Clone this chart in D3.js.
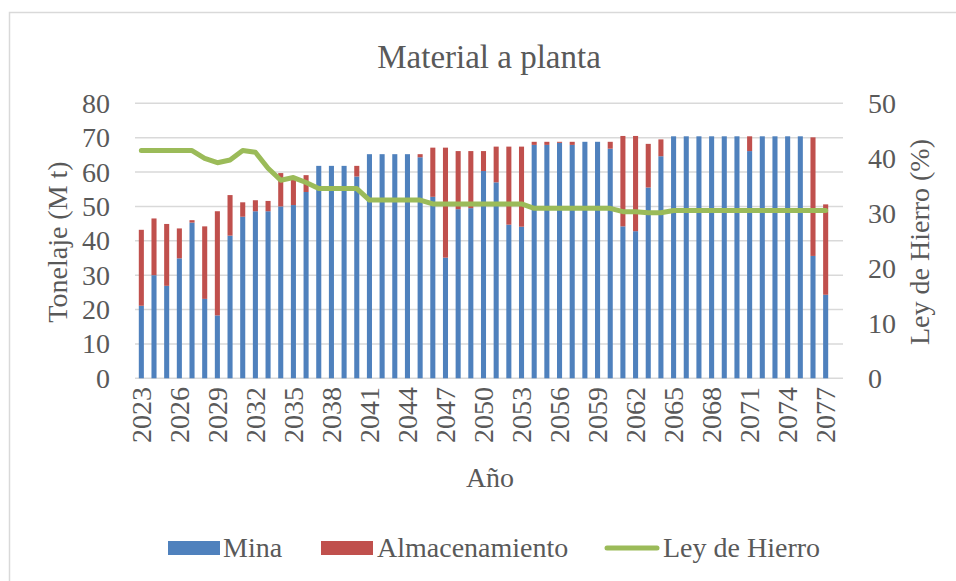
<!DOCTYPE html>
<html>
<head>
<meta charset="utf-8">
<script src="https://cdn.jsdelivr.net/npm/d3@7"></script>
<style>
  body { margin: 0; background: #fff; }
  text { font-family: "Liberation Serif", "Times New Roman", serif; fill: #595959; }
</style>
</head>
<body>
<svg id="chart" width="956" height="581"></svg>
<script>
// categories
var years = [2023, 2024, 2025, 2026, 2027, 2028, 2029, 2030, 2031, 2032,
             2033, 2034, 2035, 2036, 2037, 2038, 2039, 2040, 2041, 2042,
             2043, 2044, 2045, 2046, 2047, 2048, 2049, 2050, 2051, 2052,
             2053, 2054, 2055, 2056, 2057, 2058, 2059, 2060, 2061, 2062,
             2063, 2064, 2065, 2066, 2067, 2068, 2069, 2070, 2071, 2072,
             2073, 2074, 2075, 2076, 2077]

// Mt from the mine
var mina = [21.1, 30.0, 26.9, 34.9, 45.3, 23.1, 18.3, 41.5, 47.0, 48.6,
            48.6, 50.0, 50.4, 54.2, 61.8, 61.8, 61.8, 58.7, 65.2, 65.2,
            65.2, 65.2, 64.3, 52.8, 35.1, 49.2, 49.5, 60.3, 57.0, 44.7,
            44.1, 67.9, 67.9, 68.5, 67.9, 68.8, 68.8, 66.8, 44.2, 42.8,
            55.5, 64.6, 70.4, 70.4, 70.4, 70.4, 70.4, 70.4, 66.1, 70.4,
            70.4, 70.4, 70.4, 35.6, 24.3]

// Mt from stockpile
var almacenamiento = [22.1, 16.5, 18.0, 8.7, 0.7, 21.1, 30.3, 11.8, 4.2, 3.2,
                      3.0, 9.7, 7.8, 4.9, 0, 0, 0, 3.1, 0, 0,
                      0, 0, 0.9, 14.3, 32.0, 16.9, 16.6, 5.8, 10.4, 22.7,
                      23.3, 0.9, 0.9, 0.3, 0.9, 0, 0, 2.0, 26.3, 27.7,
                      12.7, 4.9, 0, 0, 0, 0, 0, 0, 4.3, 0,
                      0, 0, 0, 34.5, 26.3]

// iron grade %
var ley = [41.4, 41.4, 41.4, 41.4, 41.4, 40.0, 39.2, 39.7, 41.4, 41.1,
           38.2, 36.0, 36.5, 35.6, 34.5, 34.5, 34.5, 34.5, 32.4, 32.4,
           32.4, 32.4, 32.4, 31.7, 31.7, 31.7, 31.7, 31.7, 31.7, 31.7,
           31.7, 30.9, 30.9, 30.9, 30.9, 30.9, 30.9, 30.9, 30.3, 30.3,
           30.1, 30.1, 30.5, 30.5, 30.5, 30.5, 30.5, 30.5, 30.5, 30.5,
           30.5, 30.5, 30.5, 30.5, 30.5]

var leftTicks = [0, 10, 20, 30, 40, 50, 60, 70, 80]
var rightTicks = [0, 10, 20, 30, 40, 50]
var tickYears = [2023, 2026, 2029, 2032, 2035, 2038, 2041, 2044, 2047, 2050,
                 2053, 2056, 2059, 2062, 2065, 2068, 2071, 2074, 2077]

var svg = d3.select("#chart")

var plotLeft = 135, plotRight = 843, plotTop = 103.3, plotBottom = 378.3

// excel leaves one empty slot at the end, so bars stop short of the gridlines
var x = d3.scaleBand().domain(years).range([plotLeft, 832]).paddingInner(0.6).paddingOuter(0.3)
var y = d3.scaleLinear().domain([0, 80]).range([plotBottom, plotTop])
var y2 = d3.scaleLinear().domain([0, 50]).range([plotBottom, plotTop])

// chart border
svg.append("rect")
    .attr("x", 9.5).attr("y", 12.5)
    .attr("width", 960).attr("height", 580)
    .attr("fill", "none")
    .attr("stroke", "#d9d9d9")
    .attr("stroke-width", 1.5)

svg.append("text")
    .attr("x", 489).attr("y", 68)
    .attr("text-anchor", "middle")
    .style("font-size", "33px")
    .text("Material a planta")

// gridlines
svg.append("g").selectAll("line")
    .data(leftTicks)
    .join("line")
    .attr("x1", plotLeft).attr("x2", plotRight)
    .attr("y1", function(d){ return y(d) }).attr("y2", function(d){ return y(d) })
    .attr("stroke", "#d9d9d9")
    .attr("stroke-width", 1.5)

// stacked bars
var stack = years.map(function(yr, i){
    return { year: yr, mina: mina[i], alm: almacenamiento[i] }
})

svg.append("g").selectAll("rect")
    .data(stack)
    .join("rect")
    .attr("x", function(d){ return x(d.year) })
    .attr("width", x.bandwidth())
    .attr("y", function(d){ return y(d.mina) })
    .attr("height", function(d){ return y(0) - y(d.mina) })
    .attr("fill", "#4f81bd")

svg.append("g").selectAll("rect")
    .data(stack.filter(function(d){ return d.alm > 0 }))
    .join("rect")
    .attr("x", function(d){ return x(d.year) })
    .attr("width", x.bandwidth())
    .attr("y", function(d){ return y(d.mina + d.alm) })
    .attr("height", function(d){ return y(d.mina) - y(d.mina + d.alm) })
    .attr("fill", "#c0504d")

// grade line
var line = d3.line()
    .x(function(d, i){ return x(years[i]) + x.bandwidth() / 2 })
    .y(function(d){ return y2(d) })

svg.append("path")
    .datum(ley)
    .attr("d", line)
    .attr("fill", "none")
    .attr("stroke", "#9bbb59")
    .attr("stroke-width", 5)
    .attr("stroke-linejoin", "round")
    .attr("stroke-linecap", "round")

// axes labels
svg.append("g").selectAll("text")
    .data(leftTicks)
    .join("text")
    .attr("x", 110)
    .attr("y", function(d){ return y(d) })
    .attr("dy", "0.34em")
    .attr("text-anchor", "end")
    .style("font-size", "28px")
    .text(function(d){ return d })

svg.append("g").selectAll("text")
    .data(rightTicks)
    .join("text")
    .attr("x", 868)
    .attr("y", function(d){ return y2(d) })
    .attr("dy", "0.34em")
    .style("font-size", "28px")
    .text(function(d){ return d })

svg.append("g").selectAll("text")
    .data(tickYears)
    .join("text")
    .attr("transform", function(d){
        return "translate(" + (x(d) + x.bandwidth() / 2) + ",387) rotate(-90)"
    })
    .attr("dy", "0.34em")
    .attr("text-anchor", "end")
    .style("font-size", "28px")
    .text(function(d){ return d })

svg.append("text")
    .attr("transform", "translate(67,242) rotate(-90)")
    .attr("text-anchor", "middle")
    .style("font-size", "28px")
    .text("Tonelaje (M t)")

svg.append("text")
    .attr("transform", "translate(929,242) rotate(-90)")
    .attr("text-anchor", "middle")
    .style("font-size", "28px")
    .text("Ley de Hierro (%)")

svg.append("text")
    .attr("x", 490).attr("y", 487)
    .attr("text-anchor", "middle")
    .style("font-size", "28px")
    .text("Año")

// legend
var legend = svg.append("g")

legend.append("rect").attr("x", 168).attr("y", 541).attr("width", 52).attr("height", 14).attr("fill", "#4f81bd")
legend.append("text").attr("x", 223).attr("y", 557).style("font-size", "28px").text("Mina")

legend.append("rect").attr("x", 321).attr("y", 541).attr("width", 52).attr("height", 14).attr("fill", "#c0504d")
legend.append("text").attr("x", 377).attr("y", 557).style("font-size", "28px").text("Almacenamiento")

legend.append("line")
    .attr("x1", 607).attr("x2", 657).attr("y1", 548).attr("y2", 548)
    .attr("stroke", "#9bbb59").attr("stroke-width", 5).attr("stroke-linecap", "round")
legend.append("text").attr("x", 663).attr("y", 557).style("font-size", "28px").text("Ley de Hierro")
</script>
</body>
</html>
